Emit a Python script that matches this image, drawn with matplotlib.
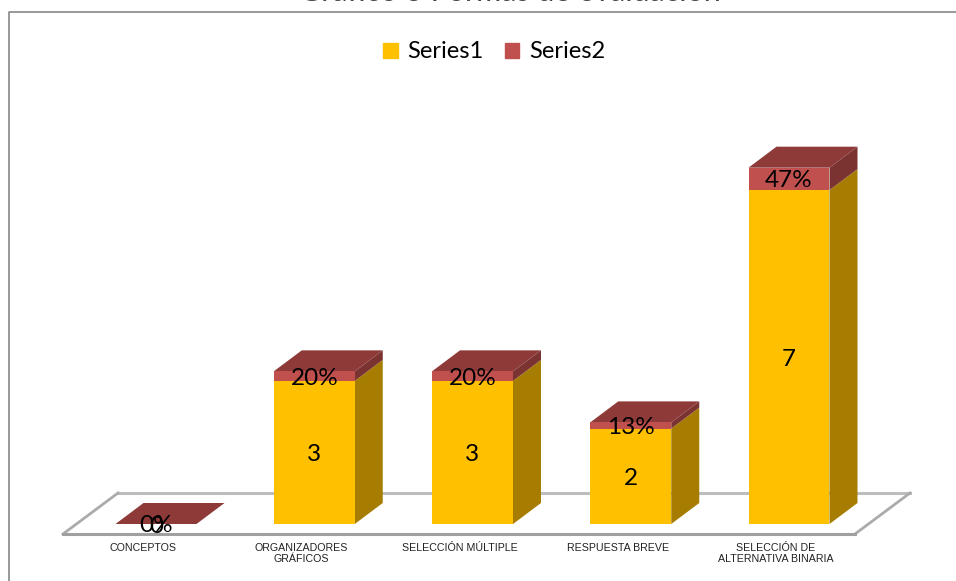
import matplotlib
matplotlib.use("Agg")
import matplotlib.pyplot as plt
from matplotlib.lines import Line2D
from matplotlib.patches import Patch, Polygon

categories = ["CONCEPTOS", "ORGANIZADORES\nGRÁFICOS", "SELECCIÓN MÚLTIPLE",
              "RESPUESTA BREVE", "SELECCIÓN DE\nALTERNATIVA BINARIA"]
series1 = [0, 3, 3, 2, 7]
series2 = [0.0, 0.20, 0.20, 0.13, 0.47]
title = "Gráfico 3 Formas de evaluación"

YELLOW, YELLOW_SIDE = "#FFC000", "#A67D00"
RED, RED_TOP, RED_SIDE = "#C0504D", "#8E3A39", "#7A3331"

W, H = 956, 581
BASE_PX = 524            # pixel row of value 0
X0_PX, STEP_PX = 156, 158.25
UNIT_PX = 47.7           # pixels per y unit

fig = plt.figure(figsize=(W / 100, H / 100), dpi=100)
ax = fig.add_axes([0, (H - BASE_PX) / H, 1, BASE_PX / H])
ax.set_xlim(-X0_PX / STEP_PX, (W - X0_PX) / STEP_PX)
ax.set_ylim(0, BASE_PX / UNIT_PX)
for s in ax.spines.values():
    s.set_visible(False)
ax.set_yticks([])

bar_w = 81 / STEP_PX
dx = 28 / STEP_PX        # fake 3d depth
dy = 21 / UNIT_PX

# floor plate, sized off the category range
left = -(156 - 63) / STEP_PX
right = left + (855 - 63) / STEP_PX
front = -10 / UNIT_PX
back = 31 / UNIT_PX
shift = 55 / STEP_PX
ax.add_line(Line2D([left + shift, right + shift], [back, back], color="#BDBDBD", lw=2.2,
                   clip_on=False, zorder=1))
ax.add_line(Line2D([right + shift, right], [back, front], color="#ABABAB", lw=2,
                   clip_on=False, zorder=1))
ax.add_line(Line2D([left, left + shift], [front, back], color="#ABABAB", lw=2,
                   clip_on=False, zorder=1))
ax.add_line(Line2D([left, right], [front, front], color="#A0A0A0", lw=2.2,
                   clip_on=False, zorder=1))

x = list(range(len(categories)))
ax.bar(x, series1, bar_w, color=YELLOW, zorder=3)
ax.bar(x, series2, bar_w, bottom=series1, color=RED, zorder=3)

for xi, a, b in zip(x, series1, series2):
    l, r = xi - bar_w / 2, xi + bar_w / 2
    top = a + b
    if a > 0:
        ax.add_patch(Polygon([(r, 0), (r + dx, dy), (r + dx, a + dy), (r, a)],
                             color=YELLOW_SIDE, lw=0, zorder=2))
    if b > 0:
        ax.add_patch(Polygon([(r, a), (r + dx, a + dy), (r + dx, top + dy), (r, top)],
                             color=RED_SIDE, lw=0, zorder=2))
    ax.add_patch(Polygon([(l, top), (l + dx, top + dy), (r + dx, top + dy), (r, top)],
                         color=RED_TOP, lw=0, zorder=2))

# data labels, same spots excel puts them (middle of each stack piece)
lab_font = dict(family="Lato", fontsize=17.5, color="black", ha="center", va="center", zorder=5)
nudge = 2 / UNIT_PX
for xi, a, b in zip(x, series1, series2):
    if a > 0:
        ax.text(xi, a / 2 - nudge, str(a), **lab_font)
    else:
        ax.text(xi, a - 0.05, str(a), **lab_font)
    ax.text(xi, a + b / 2 - nudge, f"{b:.0%}", **lab_font)

ax.set_xticks([xi - 13 / STEP_PX for xi in x])
ax.set_xticklabels(categories, family="Liberation Sans", fontsize=7.7, color="#222222",
                   linespacing=1.2, va="top")
ax.tick_params(axis="x", length=0, pad=13.5)

# chart frame runs off the right and bottom of the crop
fig.add_artist(Line2D([8.5 / W, 8.5 / W, 1], [0, 1 - 11.5 / H, 1 - 11.5 / H],
                      color="#868686", lw=1.2))
# title is cut by the top edge in the original
fig.text(510 / W, 1 - 1.2 / H, title, family="Lato", fontsize=22, color="#444444",
         ha="center", va="baseline")

handles = [Patch(color=YELLOW, label="Series1"), Patch(color=RED, label="Series2")]
fig.legend(handles=handles, loc="center", bbox_to_anchor=(494 / W, 1 - 52 / H), ncol=2,
           frameon=False, prop={"family": "Lato", "size": 17}, handlelength=0.62,
           handleheight=0.62, handletextpad=0.4, columnspacing=0.9)

plt.savefig("out.png", dpi=100)
plt.close()
